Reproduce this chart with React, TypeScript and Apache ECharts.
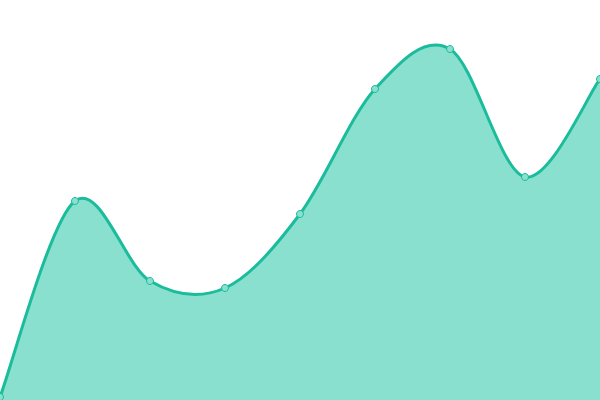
import React, { useEffect, useRef } from "react";
import * as echarts from "echarts";

const categories = ["1", "2", "3", "4", "5", "6", "7", "8", "9"];
const values = [3, 199, 119, 112, 186, 311, 351, 223, 321];

const lineColor = "#1abc9c";
const fillColor = "#8ae0cf";

// catmull-rom style curve through the points (overshoots like the reference)
function curvePath(pts: number[][]) {
    let d = `M${pts[0][0]},${pts[0][1]}`;
    for (let i = 0; i < pts.length - 1; i++) {
        const p0 = pts[i - 1] || pts[i];
        const p1 = pts[i];
        const p2 = pts[i + 1];
        const p3 = pts[i + 2] || p2;
        const c1x = p1[0] + (p2[0] - p0[0]) / 6;
        const c1y = p1[1] + (p2[1] - p0[1]) / 6;
        const c2x = p2[0] - (p3[0] - p1[0]) / 6;
        const c2y = p2[1] - (p3[1] - p1[1]) / 6;
        d += ` C${c1x},${c1y} ${c2x},${c2y} ${p2[0]},${p2[1]}`;
    }
    return d;
}

const App: React.FC = () => {
    const chartRef = useRef<HTMLDivElement>(null);

    useEffect(() => {
        const chart = echarts.init(chartRef.current, null, { renderer: "svg" });
        chart.setOption({
            animation: false,
            grid: { left: 0, right: 0, top: 0, bottom: 0 },
            xAxis: {
                type: "category",
                data: categories,
                boundaryGap: false,
                show: false,
            },
            yAxis: {
                type: "value",
                min: 0,
                max: 400,
                show: false,
            },
            series: [
                {
                    type: "custom",
                    data: values.map((v, i) => [i, v]),
                    clip: false,
                    renderItem: (params: any, api: any) => {
                        if (params.dataIndex !== 0) return null;
                        const pts = values.map((v, i) => api.coord([i, v]));
                        const base = api.coord([0, 0])[1];
                        const line = curvePath(pts);
                        const last = pts[pts.length - 1];
                        const area = `${line} L${last[0]},${base} L${pts[0][0]},${base} Z`;
                        return {
                            type: "group",
                            children: [
                                {
                                    type: "path",
                                    shape: { pathData: area },
                                    style: { fill: fillColor, stroke: "none" },
                                },
                                {
                                    type: "path",
                                    shape: { pathData: line },
                                    style: { fill: "none", stroke: lineColor, lineWidth: 3 },
                                },
                            ],
                        };
                    },
                },
                {
                    type: "scatter",
                    data: values,
                    symbol: "circle",
                    symbolSize: 7,
                    itemStyle: { color: fillColor, borderColor: lineColor, borderWidth: 1, opacity: 1 },
                },
            ],
        });
        return () => {
            chart.dispose();
        };
    }, []);

    return (
        <div
            ref={chartRef}
            style={{ position: "absolute", left: 0, top: 0, width: 600, height: 400 }}
        ></div>
    );
};

export default App;
